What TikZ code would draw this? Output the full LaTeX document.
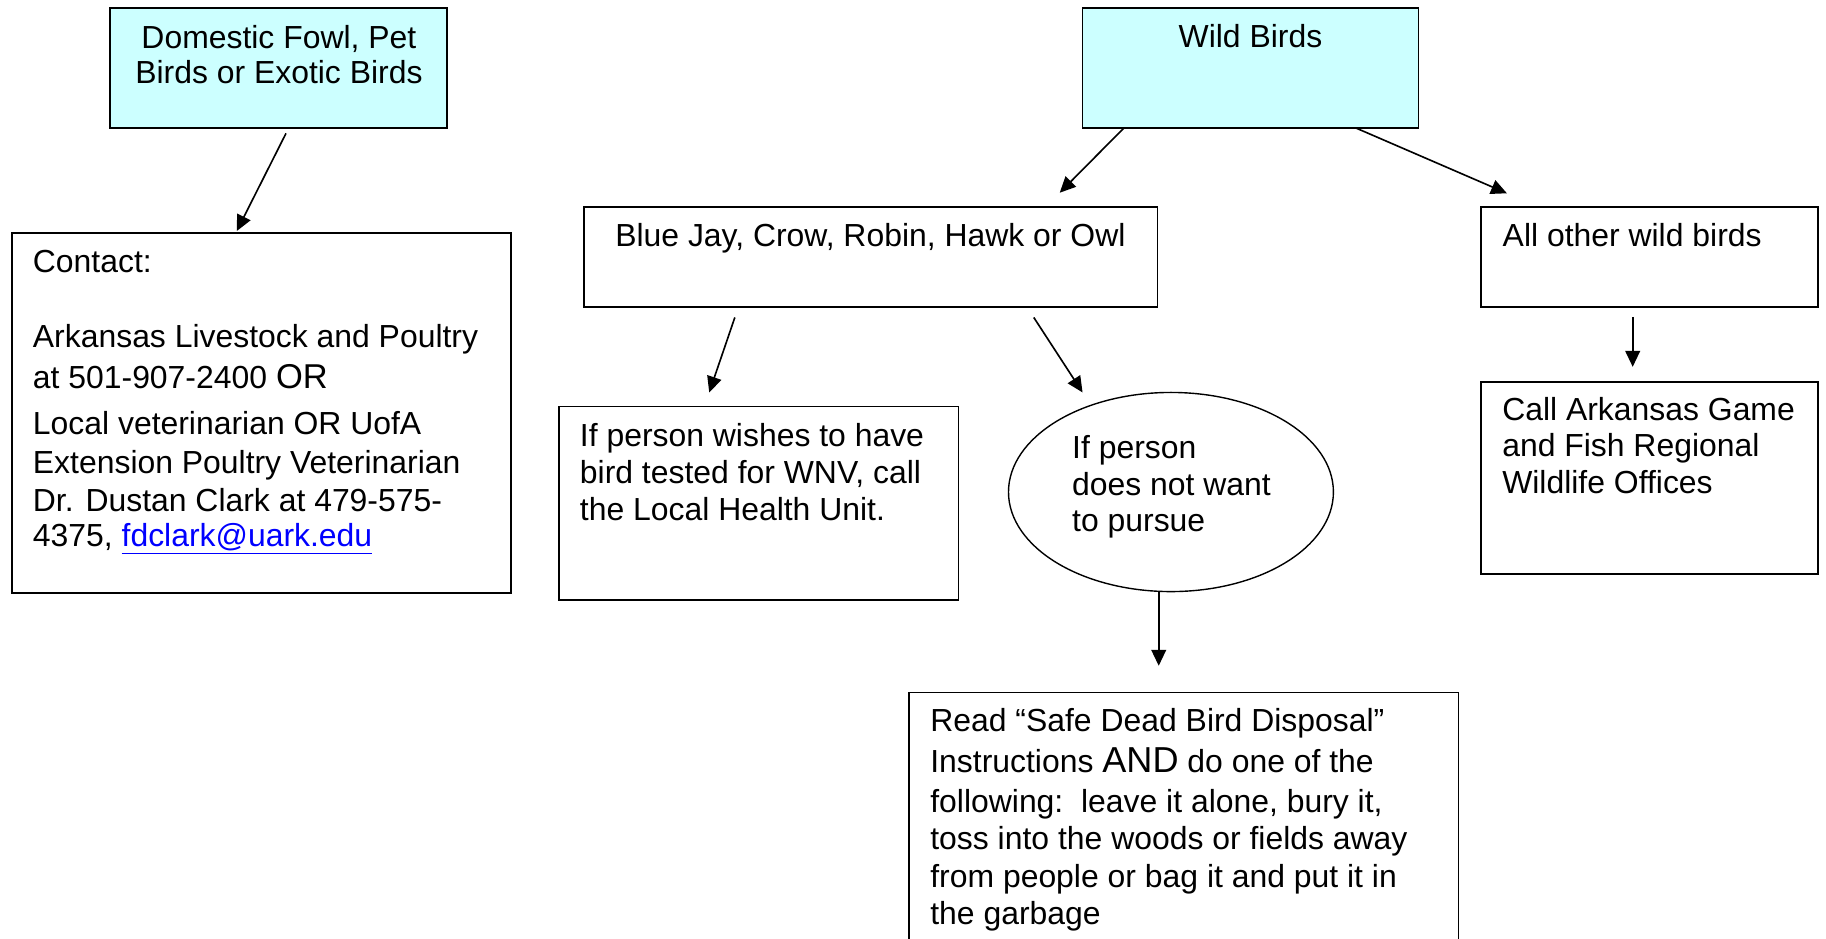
\documentclass[tikz,border=0pt]{standalone}
\usepackage{fontspec}
\setmainfont{Liberation Sans}
\usetikzlibrary{arrows.meta,calc,shapes.geometric}
\definecolor{boxcyan}{HTML}{CCFFFF}
\definecolor{linkblue}{HTML}{0000FF}
\begin{document}
\begin{tikzpicture}[x=0.5pt,y=-0.5pt,
  box/.style={draw, line width=0.75pt, inner sep=0pt, outer sep=0pt, anchor=north west},
  txt/.style={inner sep=0pt, outer sep=0pt, align=left, anchor=north west},
  conn/.style={line width=0.7pt, -{Triangle[length=6.8pt,width=6.3pt]}},
  fnt/.style={font=\fontsize{13.7}{16}\selectfont}]
\useasboundingbox (0,0) rectangle (1568,806);
\clip (0,0) rectangle (1568,806);

% boxes
\node[box, fill=boxcyan, minimum width=144.55pt, minimum height=51.5pt] (dom) at (94.5,7) {};
\node[box, minimum width=214.4pt, minimum height=154.5pt] (contact) at (10,200) {};
\node[box, fill=boxcyan, minimum width=144.2pt, minimum height=51.5pt] (wild) at (929.6,7) {};
\node[box, minimum width=246.2pt, minimum height=42.75pt] (bj) at (501.6,178) {};
\node[box, minimum width=144.5pt, minimum height=42.75pt] (other) at (1272,178) {};
\node[box, minimum width=171.5pt, minimum height=83pt] (wish) at (480,349) {};
\node[draw, ellipse, line width=0.6pt, inner sep=0pt, minimum width=139.5pt, minimum height=85.5pt] (ell) at (1005.5,422.5) {};
\node[box, minimum width=144.5pt, minimum height=82.6pt] (call) at (1272,327.8) {};
\node[box, minimum width=235.85pt, minimum height=117.5pt] (read) at (780.8,594.7) {};

% texts
\node[txt, anchor=north, align=center, font=\fontsize{13.7}{15}\selectfont] (domt) at (239.5,21)
  {\strut Domestic Fowl, Pet\\Birds or Exotic Birds};
\node[txt, fnt] (contactt) at (28.3,211.6)
  {\strut Contact:\\[16pt]
   Arkansas Livestock and Poultry\\[2pt]
   at 501-907-2400 {\fontsize{14.8}{16}\selectfont OR}\\[3.5pt]
   Local veterinarian OR UofA\\[1pt]
   Extension Poultry Veterinarian\\
   Dr. Dustan Clark at 479-575-\\[-1pt]
   4375, \textcolor{linkblue}{\underline{fdclark@uark.edu}}};
\node[anchor=base, inner sep=0pt, fnt] (wildt) at (1073.8,41) {Wild Birds};
\node[anchor=base west, inner sep=0pt, fnt] (bjt) at (528,212) {Blue Jay, Crow, Robin, Hawk or Owl};
\node[anchor=base west, inner sep=0pt, fnt] (othert) at (1290,212) {All other wild birds};
\node[txt, fnt] (wisht) at (498,360.6)
  {\strut If person wishes to have\\bird tested for WNV, call\\the Local Health Unit.};
\node[txt, font=\fontsize{13.7}{15.75}\selectfont] (ellt) at (920.7,371.75)
  {\strut If person\\does not want\\to pursue};
\node[txt, font=\fontsize{13.7}{15.7}\selectfont] (callt) at (1290,338.7)
  {\strut Call Arkansas Game\\and Fish Regional\\Wildlife Offices};
\node[txt, font=\fontsize{13.7}{16.1}\selectfont] (readt) at (798.9,605.9)
  {\strut Read “Safe Dead Bird Disposal”\\[1.5pt]
   Instructions {\fontsize{15.5}{16.1}\selectfont AND} do one of the\\[0.8pt]
   following:\ \ leave it alone, bury it,\\
   toss into the woods or fields away\\
   from people or bag it and put it in\\
   the garbage};

% connector ends
\coordinate (a1s) at (245.6,114.5);
\coordinate (a1e) at (203.3,198.4);
\coordinate (a2e) at (910,165.5);
\coordinate (a3e) at (1294,166);
\coordinate (a4s) at (631,272.6);
\coordinate (a4e) at (609,337);
\coordinate (a5s) at (887.7,272.6);
\coordinate (a5e) at (929.6,337);
\coordinate (a6s) at (1402,272);
\coordinate (a6e) at (1402,315);
\coordinate (a7e) at (995,571.7);

% connectors
\draw[conn] (a1s) -- (a1e);
\draw[conn] ($(wild.south west)+(35.4,0)$) -- (a2e);
\draw[conn] ($(wild.south west)+(234.9,0)$) -- (a3e);
\draw[conn] (a4s) -- (a4e);
\draw[conn] (a5s) -- (a5e);
\draw[conn] (a6s) -- (a6e);
\draw[conn] ($(ell.south)+(-10.5,0)$) -- (a7e);
\end{tikzpicture}
\end{document}
